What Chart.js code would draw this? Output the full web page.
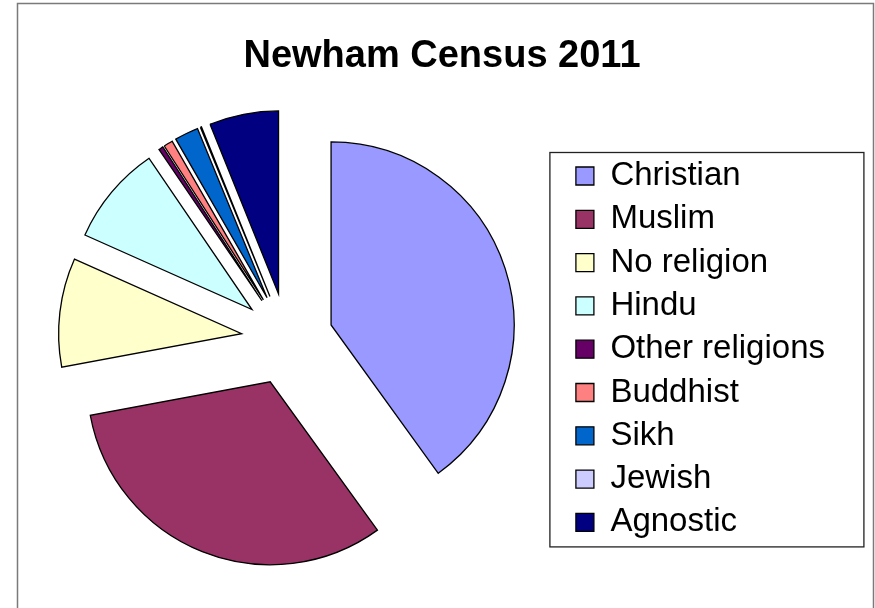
<!DOCTYPE html>
<html>
<head>
<meta charset="utf-8">
<title>Newham Census 2011</title>
<script src="https://cdn.jsdelivr.net/npm/chart.js@4/dist/chart.umd.min.js"></script>
<style>
  html, body { margin: 0; padding: 0; background: #fff; }
  #wrap { width: 875px; height: 608px; }
</style>
</head>
<body>
<div id="wrap"><canvas id="censusChart" width="875" height="608"></canvas></div>
<script>
// religion shares in Newham (%)
const religions = ["Christian", "Muslim", "No religion", "Hindu", "Other religions", "Buddhist", "Sikh", "Jewish", "Agnostic"];
const shares = [40.0, 32.0, 9.6, 8.8, 0.4, 0.8, 2.1, 0.1, 6.1];
const colours = ["#9999FF", "#993366", "#FFFFCC", "#CCFFFF", "#660066", "#FF8080", "#0066CC", "#CCCCFF", "#000080"];

const FONT = "'Liberation Sans', Arial, sans-serif";

// pull every slice out from the centre, like an exploded Excel pie
const explodePlugin = {
    id: "explode",
    beforeDatasetDraw(chart, args, opts) {
        const ctx = chart.ctx;
        args.meta.data.forEach(arc => {
            const mid = (arc.startAngle + arc.endAngle) / 2;
            ctx.save();
            ctx.translate(Math.cos(mid) * opts.distance, Math.sin(mid) * opts.distance);
            arc.draw(ctx);
            ctx.restore();
        });
        return false;
    }
};

// outer chart frame + box around the legend
const framePlugin = {
    id: "frame",
    beforeDraw(chart) {
        const ctx = chart.ctx;
        ctx.save();
        ctx.strokeStyle = "#7a7a7a";
        ctx.lineWidth = 1.5;
        ctx.beginPath();
        ctx.moveTo(17.5, 610);
        ctx.lineTo(17.5, 3.5);
        ctx.lineTo(873.5, 3.5);
        ctx.lineTo(873.5, 610);
        ctx.stroke();
        ctx.restore();
    },
    afterDraw(chart) {
        const boxes = chart.legend.legendHitBoxes;
        if (!boxes || !boxes.length) return;
        const left = Math.min(...boxes.map(b => b.left));
        const top = Math.min(...boxes.map(b => b.top));
        const bottom = Math.max(...boxes.map(b => b.top + b.height));
        const ctx = chart.ctx;
        ctx.save();
        ctx.strokeStyle = "#222";
        ctx.lineWidth = 1.3;
        ctx.strokeRect(left - 26, top - 7, 314, bottom - top + 15);
        ctx.restore();
    }
};

const ctx = document.getElementById("censusChart").getContext("2d");
new Chart(ctx, {
    type: "pie",
    data: {
        labels: religions,
        datasets: [{
            data: shares,
            backgroundColor: colours,
            borderColor: "#000",
            borderWidth: 1.3,
            borderJoinStyle: "miter"
        }]
    },
    plugins: [explodePlugin, framePlugin],
    options: {
        responsive: false,
        animation: false,
        radius: 183,
        layout: { padding: { left: 9, right: 0, top: 0, bottom: 19 } },
        plugins: {
            explode: { distance: 46 },
            tooltip: { enabled: false },
            title: {
                display: true,
                text: "Newham Census 2011",
                color: "#000",
                font: { family: FONT, size: 38, weight: "bold" },
                padding: { top: 34.2, bottom: 9.4 }
            },
            // empty box on the right, keeps the legend off the frame edge
            subtitle: {
                display: true,
                text: "",
                position: "right",
                font: { size: 10, lineHeight: 1 },
                padding: { top: 30, bottom: 0 }
            },
            legend: {
                position: "right",
                align: "start",
                maxWidth: 320,
                title: {
                    display: true,
                    text: "",
                    font: { size: 10, lineHeight: 1 },
                    padding: { top: 139.2, bottom: 0 }
                },
                labels: {
                    color: "#000",
                    font: { family: FONT, size: 33 },
                    boxWidth: 18,
                    boxHeight: 18,
                    padding: 10.3
                }
            }
        }
    }
});
</script>
</body>
</html>
